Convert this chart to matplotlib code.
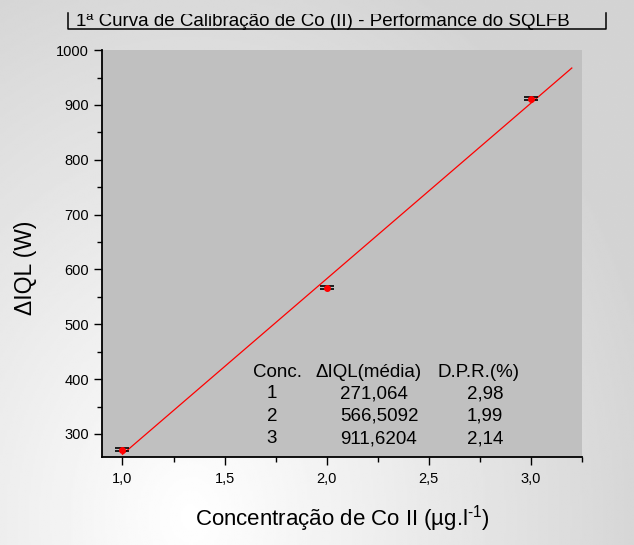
import numpy as np
import matplotlib
matplotlib.use('Agg')
import matplotlib.pyplot as plt
from matplotlib.lines import Line2D
from matplotlib.transforms import Bbox, TransformedBbox

plt.rcParams['font.family'] = ['Liberation Sans', 'DejaVu Sans']
plt.rcParams['mathtext.fontset'] = 'custom'
plt.rcParams['mathtext.rm'] = 'Liberation Sans'
plt.rcParams['mathtext.it'] = 'Liberation Sans'

# calibration data
conc = [1, 2, 3]
iql_mean = [271.064, 566.5092, 911.6204]
iql_err = [3, 3, 3]
dpr = ['2,98', '1,99', '2,14']
iql_text = ['271,064', '566,5092', '911,6204']

W, H = 634, 545
fig = plt.figure(figsize=(W / 100, H / 100), dpi=100)

# background gradient (white near the title, grey towards the edges)
bg = fig.add_axes([0, 0, 1, 1], zorder=-10)
gx, gy = np.meshgrid(np.linspace(0, 1, 300), np.linspace(0, 1, 300))
d = np.sqrt(((gx - 0.3) / 0.75) ** 2 + ((gy - 0.95) / 1.1) ** 2)
shade = 1.0 - 0.17 * np.clip(d, 0, 1)
bg.imshow(shade, cmap='gray', vmin=0, vmax=1, extent=[0, 1, 0, 1],
          origin='upper', aspect='auto', interpolation='bilinear')
bg.axis('off')

ax = fig.add_axes([0.161, 0.1615, 0.757, 0.7465])
ax.set_facecolor('#c0c0c0')

# linear fit
slope, icpt = np.polyfit(conc, iql_mean, 1)
xf = np.linspace(1, 3.2, 50)
ax.plot(xf, slope * xf + icpt, color='red', lw=0.9, zorder=2)

ax.errorbar(conc, iql_mean, yerr=iql_err, fmt='o', ms=4, color='red',
            ecolor='black', elinewidth=1, capsize=5.3, capthick=1.2, zorder=3)

ax.set_xlim(0.9, 3.25)
ax.set_ylim(258, 1000)
ax.set_xticks([1.0, 1.5, 2.0, 2.5, 3.0])
ax.set_xticklabels(['1,0', '1,5', '2,0', '2,5', '3,0'])
ax.set_xticks([1.25, 1.75, 2.25, 2.75, 3.25], minor=True)
ax.set_yticks(range(300, 1001, 100))
ax.set_yticks(range(350, 1000, 100), minor=True)
ax.tick_params(which='major', direction='out', length=6, width=1, labelsize=10.5, colors='black')
ax.tick_params(which='minor', direction='out', length=3.5, width=1)
ax.tick_params(axis='x', pad=5)
for s in ['top', 'right']:
    ax.spines[s].set_visible(False)
for s in ['left', 'bottom']:
    ax.spines[s].set_linewidth(1.3)

ax.set_xlabel('Concentração de Co II (µg.l$^{\\text{-1}}$)', fontsize=16, labelpad=12)
ax.set_ylabel('ΔIQL (W)', fontsize=16.5)
ax.yaxis.set_label_coords(-0.135, 0.465)

# table of values
tf = 13.5
ax.text(0.3646, 0.208, 'Conc.', transform=ax.transAxes, fontsize=tf, ha='center', va='center')
ax.text(0.5556, 0.208, 'ΔIQL(média)', transform=ax.transAxes, fontsize=tf, ha='center', va='center')
ax.text(0.7833, 0.208, 'D.P.R.(%)', transform=ax.transAxes, fontsize=tf, ha='center', va='center')
for i in range(3):
    yy = 0.156 - i * 0.0555
    ax.text(0.354, yy, str(conc[i]), transform=ax.transAxes, fontsize=tf, ha='center', va='center')
    ax.text(0.4958, yy, iql_text[i], transform=ax.transAxes, fontsize=tf, ha='left', va='center')
    ax.text(0.760, yy, dpr[i], transform=ax.transAxes, fontsize=tf, ha='left', va='center')

# title box, its top is cut off at ~13 px from the figure edge
clip = TransformedBbox(Bbox([[0, 0], [1, 1 - 13.5 / H]]), fig.transFigure)
bx0, bx1, by0, by1 = 67.5 / W, 606 / W, 1 - 29 / H, 1 - 12.5 / H
box = Line2D([bx0, bx0, bx1, bx1], [by1, by0, by0, by1], transform=fig.transFigure,
             color='black', lw=1.1)
fig.lines.append(box)
t = fig.text(76 / W, 1 - 25.5 / H, '1ª Curva de Calibração de Co (II) - Performance do SQLFB',
             fontsize=13.5, ha='left', va='baseline')
t.set_clip_box(clip)
t.set_clip_on(True)

fig.savefig('out.png', dpi=100)
